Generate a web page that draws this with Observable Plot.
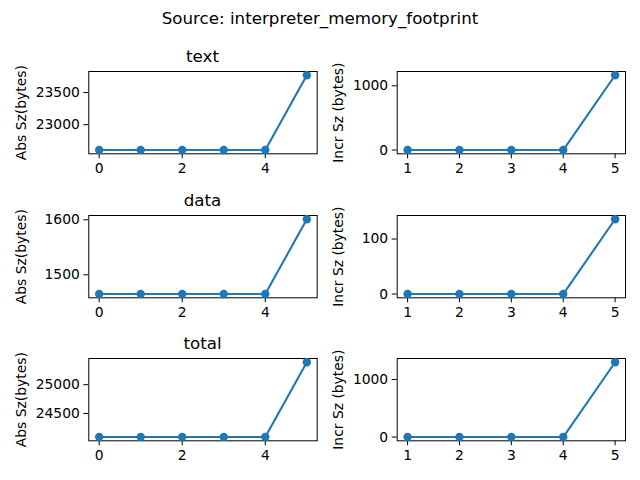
<!DOCTYPE html>
<html>
<head>
<meta charset="utf-8">
<script src="https://cdn.jsdelivr.net/npm/d3@7"></script>
<script src="https://cdn.jsdelivr.net/npm/@observablehq/plot@0.6"></script>
<style>
  html, body { margin: 0; padding: 0; background: #fff; }
  #fig { position: relative; width: 640px; height: 480px; font-family: "DejaVu Sans", sans-serif; color: #000; }
  .ttl { position: absolute; font-size: 16.7px; line-height: 1; transform: translate(-50%, -50%); white-space: nowrap; }
  .pnl { position: absolute; }
</style>
</head>
<body>
<div id="fig"></div>
<script>
const suptitle = "Source: interpreter_memory_footprint";
const sections = ["text", "data", "total"];
const absSteps = [0, 1, 2, 3, 4, 5];
const incrSteps = [1, 2, 3, 4, 5];
const textAbs = [22605, 22605, 22605, 22605, 22605, 23770];
const textIncr = [0, 0, 0, 0, 1165];
const dataAbs = [1465, 1465, 1465, 1465, 1465, 1601];
const dataIncr = [0, 0, 0, 0, 136];
const totalAbs = [24090, 24090, 24090, 24090, 24090, 25390];
const totalIncr = [0, 0, 0, 0, 1300];
const absXTicks = [0, 2, 4];
const incrXTicks = [1, 2, 3, 4, 5];
const textAbsYTicks = [23000, 23500];
const textIncrYTicks = [0, 1000];
const dataAbsYTicks = [1500, 1600];
const dataIncrYTicks = [0, 100];
const totalAbsYTicks = [24500, 25000];
const totalIncrYTicks = [0, 1000];
const absLabel = "Abs Sz(bytes)";
const incrLabel = "Incr Sz (bytes)";

const fig = document.getElementById("fig");
const BLUE = "#1f77b4";

function addText(txt, cx, cy) {
  const d = document.createElement("div");
  d.className = "ttl";
  d.textContent = txt;
  d.style.left = cx + "px";
  d.style.top = cy + "px";
  fig.appendChild(d);
}

function panel(xs, ys, xTicks, yTicks, label, left, frameTop, mLeft, mRight, labelOffset) {
  const data = xs.map((s, i) => ({step: s, value: ys[i]}));
  const [x0, x1] = d3.extent(xs);
  const px = (x1 - x0) * 0.05;
  const [y0, y1] = d3.extent(ys);
  const py = (y1 - y0) * 0.05;
  const mTop = 5, mBottom = 30, fh = 82.3;
  const svg = Plot.plot({
    width: 320,
    height: fh + mTop + mBottom,
    marginTop: mTop, marginBottom: mBottom, marginLeft: mLeft, marginRight: mRight,
    style: {fontFamily: "DejaVu Sans, sans-serif", fontSize: "13.9px", color: "#000", background: "transparent", overflow: "visible"},
    x: {domain: [x0 - px, x1 + px]},
    y: {domain: [y0 - py, y1 + py]},
    marks: [
      Plot.axisX({ticks: xTicks, tickFormat: d => String(d), tickSize: 5, tickPadding: 4, label: null, stroke: "#000", strokeOpacity: 1}),
      Plot.axisY({ticks: yTicks, tickFormat: d => String(d), tickSize: 5, tickPadding: 4, label: label, labelAnchor: "center", labelArrow: "none", labelOffset: labelOffset, stroke: "#000", strokeOpacity: 1}),
      Plot.frame({stroke: "#000", strokeWidth: 1}),
      Plot.line(data, {x: "step", y: "value", stroke: BLUE, strokeWidth: 2.1}),
      Plot.dot(data, {x: "step", y: "value", r: 4.2, fill: BLUE, stroke: "none"})
    ]
  });
  svg.classList.add("pnl");
  svg.style.left = left + "px";
  svg.style.top = (frameTop - mTop) + "px";
  fig.appendChild(svg);
}

addText(suptitle, 320, 18);
const rowTops = [71, 215, 358.3];
const absSeries = [textAbs, dataAbs, totalAbs];
const incrSeries = [textIncr, dataIncr, totalIncr];
const absYT = [textAbsYTicks, dataAbsYTicks, totalAbsYTicks];
const incrYT = [textIncrYTicks, dataIncrYTicks, totalIncrYTicks];
sections.forEach((name, i) => {
  addText(name, 202.5, rowTops[i] - 15);
  panel(absSteps, absSeries[i], absXTicks, absYT[i], absLabel, 0, rowTops[i], 88.3, 3.3, 73);
  panel(incrSteps, incrSeries[i], incrXTicks, incrYT[i], incrLabel, 320, rowTops[i], 76.7, 15, 64);
});
</script>
</body>
</html>
